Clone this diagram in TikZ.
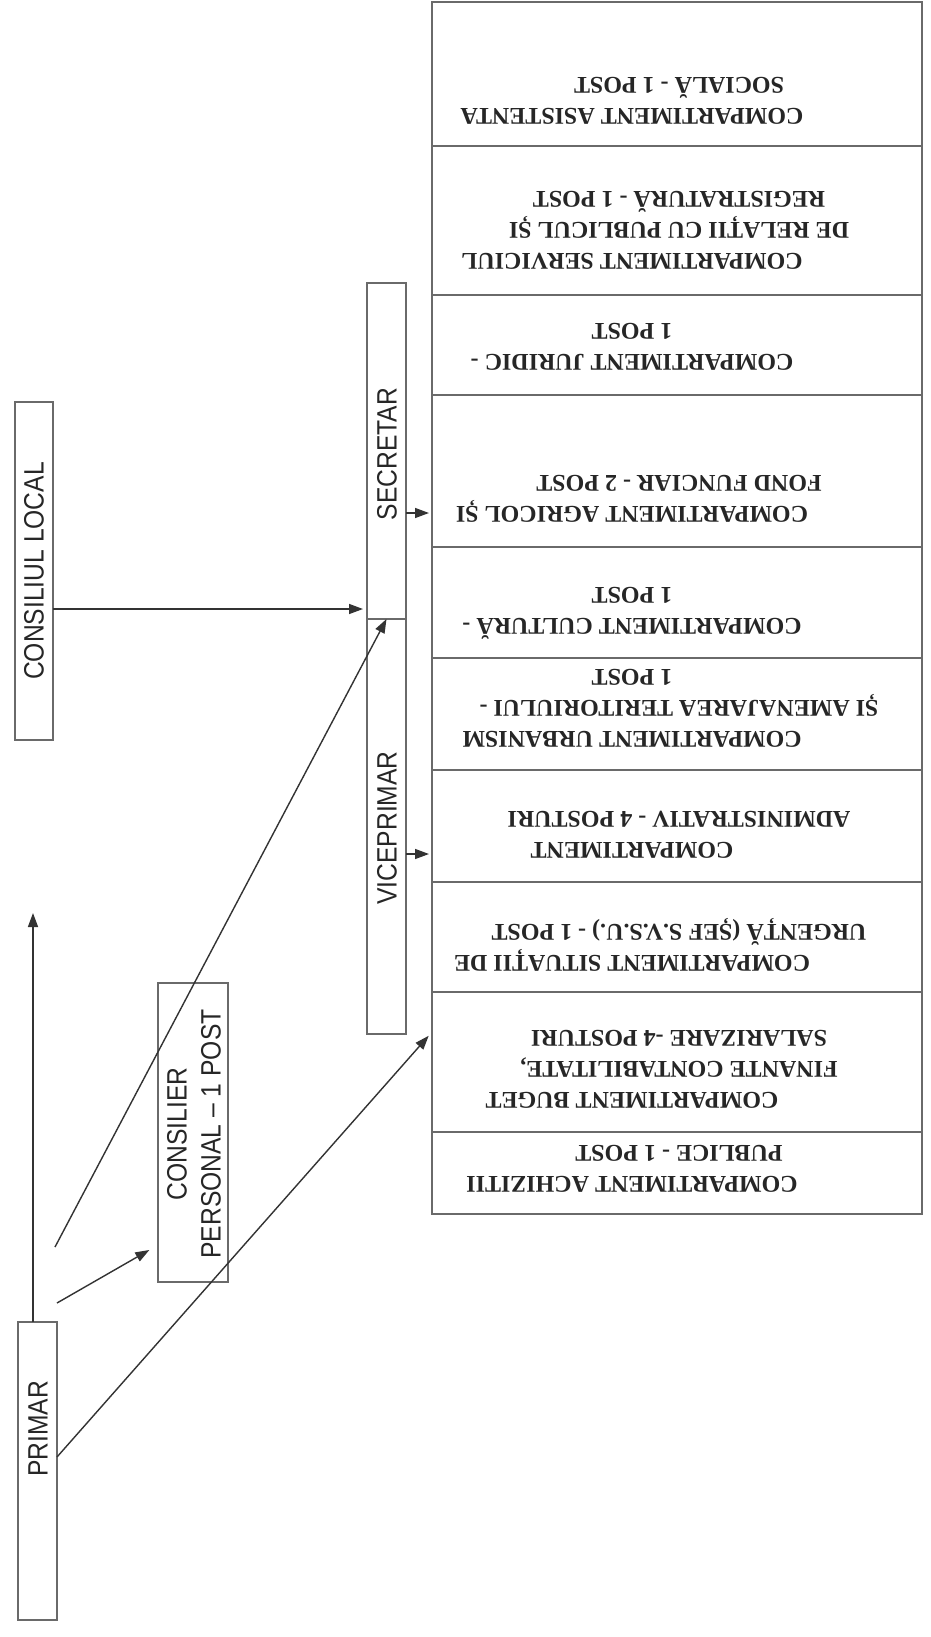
\documentclass[tikz,border=0pt]{standalone}
\usepackage{fontspec}
\setmainfont{Liberation Serif}
\newfontfamily\lblfont[FakeStretch=0.88]{Liberation Sans}
\newfontfamily\cmpfont{Liberation Serif}
\usetikzlibrary{arrows.meta}
\definecolor{ink}{HTML}{262626}
\definecolor{frame}{HTML}{6A6A6A}
\definecolor{wire}{HTML}{333333}
\newcommand\Rk{\kern94pt}
\begin{document}
\begin{tikzpicture}[x=1pt,y=-1pt,
  box/.style={draw=frame, line width=1.6pt, inner sep=0pt, outer sep=0pt},
  lbl/.style={font=\lblfont\fontsize{28}{34}\selectfont, text=ink, rotate=90, align=center, inner sep=0pt},
  cmp/.style={font=\cmpfont\bfseries\fontsize{24}{31}\selectfont, text=ink, rotate=180, align=center, inner sep=0pt},
  arr/.style={draw=wire, line width=1.4pt, -{Triangle[length=14pt,width=10pt]}}]
\fill[white] (0,0) rectangle (930,1637);
\useasboundingbox (0,0) rectangle (930,1637);

% left column boxes
\node[box, minimum width=38pt, minimum height=338pt] (cl) at (34,571) {};
\node[lbl] (clT) at (34,571) {CONSILIUL LOCAL};
\node[box, minimum width=39pt, minimum height=298pt] (primar) at (37.5,1471) {};
\node[lbl] (primarT) at (38,1429) {PRIMAR};
\node[box, minimum width=70pt, minimum height=299pt] (consilier) at (193,1132.5) {};
\node[lbl] (consT) at (194,1134) {CONSILIER\\PERSONAL – 1 POST};
\node[box, minimum width=39pt, minimum height=336pt] (secretar) at (386.5,451) {};
\node[lbl] (secT) at (387,454) {SECRETAR};
\node[box, minimum width=39pt, minimum height=415pt] (viceprimar) at (386.5,826.5) {};
\node[lbl] (viceT) at (387,828) {VICEPRIMAR};

% table rows
\node[box, minimum width=490pt, minimum height=144pt] (r1) at (677,74) {};
\node[box, minimum width=490pt, minimum height=149pt] (r2) at (677,220.5) {};
\node[box, minimum width=490pt, minimum height=100pt] (r3) at (677,345) {};
\node[box, minimum width=490pt, minimum height=152pt] (r4) at (677,471) {};
\node[box, minimum width=490pt, minimum height=111pt] (r5) at (677,602.5) {};
\node[box, minimum width=490pt, minimum height=112pt] (r6) at (677,714) {};
\node[box, minimum width=490pt, minimum height=112pt] (r7) at (677,826) {};
\node[box, minimum width=490pt, minimum height=110pt] (r8) at (677,937) {};
\node[box, minimum width=490pt, minimum height=140pt] (r9) at (677,1062) {};
\node[box, minimum width=490pt, minimum height=82pt] (r10) at (677,1173) {};

\node[cmp] (t1) at (632,101) {COMPARTIMENT ASISTENTA\\SOCIALĂ - 1 POST\Rk};
\node[cmp] (t2) at (632,230) {COMPARTIMENT SERVICIUL\\DE RELAȚII CU PUBLICUL ȘI\Rk\\REGISTRATURĂ - 1 POST\Rk};
\node[cmp] (t3) at (632,347) {COMPARTIMENT JURIDIC -\\1 POST};
\node[cmp] (t4) at (632,499) {COMPARTIMENT AGRICOL ȘI\\FOND FUNCIAR - 2 POST\Rk};
\node[cmp] (t5) at (632,613) {COMPARTIMENT CULTURĂ -\\1 POST};
\node[cmp] (t6) at (632,708) {COMPARTIMENT URBANISM\\ȘI AMENAJAREA TERITORIULUI -\Rk\\1 POST};
\node[cmp] (t7) at (632,835) {COMPARTIMENT\\ADMINISTRATIV - 4 POSTURI\Rk};
\node[cmp] (t8) at (632,945) {COMPARTIMENT SITUAȚII DE\\URGENȚĂ (ȘEF S.V.S.U.) - 1 POST\Rk};
\node[cmp] (t9) at (632,1069) {COMPARTIMENT BUGET\\FINANTE CONTABILITATE,\Rk\\SALARIZARE -4 POSTURI\Rk};
\node[cmp] (t10) at (632,1169) {COMPARTIMENT ACHIZITII\\PUBLICE - 1 POST\Rk};

% connectors
\coordinate (upEnd) at (33,913);
\coordinate (d1s) at (55,1247);
\coordinate (c1s) at (57,1303);
\draw[arr] (primar.north -| upEnd) -- (upEnd);
\draw[arr] (d1s) -- (viceprimar.north);
\draw[arr, shorten >=10pt] (c1s) -- (consilier.west |- 0,1245);
\draw[arr, shorten >=5pt] (primar.east |- 0,1457) -- (r9.west |- 0,1032);
\draw[arr, shorten >=4pt] (cl.east |- 0,609) -- (secretar.west |- 0,609);
\draw[arr, shorten >=3pt] (secretar.east |- 0,513) -- (r4.west |- 0,513);
\draw[arr, shorten >=3pt] (viceprimar.east |- 0,854) -- (r7.west |- 0,854);
\end{tikzpicture}
\end{document}
